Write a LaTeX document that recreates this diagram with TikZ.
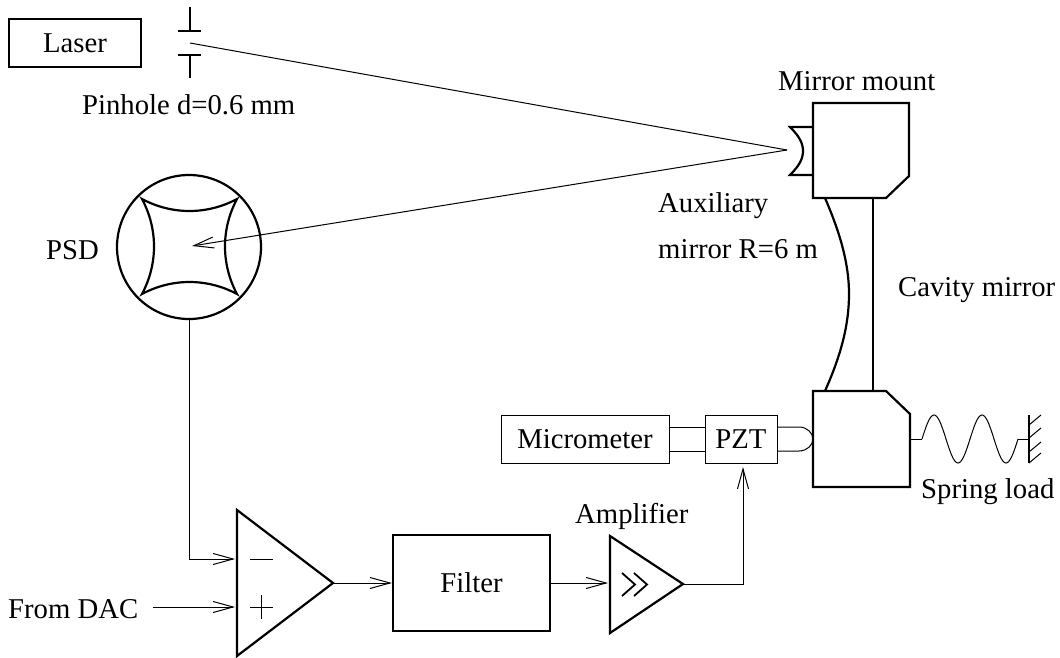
\documentclass[tikz,border=0pt]{standalone}
\usepackage{fontspec}
\setmainfont{Liberation Serif}
\usetikzlibrary{positioning,arrows.meta}

\begin{document}
\begin{tikzpicture}[
				x=1pt, y=-1pt,
				every node/.style={font=\fontsize{28.7}{32}\selectfont},
				thickbox/.style={rectangle, draw=black, line width=2.2pt, inner sep=0pt},
				thinbox/.style={rectangle, draw=black, line width=1pt, inner sep=0pt},
				label/.style={anchor=base west, inner sep=0pt},
				part/.style={line width=2.2pt, line join=miter},
				beam/.style={line width=1pt},
				signal/.style={line width=1pt, -{Straight Barb[length=20pt,width=11pt,line width=1pt]}},
				]
				\useasboundingbox (0,0) rectangle (1060,658);
				%Nodes
				\node[thickbox, minimum width=132pt, minimum height=48pt](laser) at (75,43){Laser};
				\node[label](pinhole) at (82,115){Pinhole d=0.6 mm};
				\node[label](mount) at (778,91){Mirror mount};
				\node[label](aux) at (658,212){Auxiliary};
				\node[label](auxr) at (658,258){mirror R=6 m};
				\node[label](psdlabel) at (46,259){PSD};
				\node[label](cavity) at (898,296){Cavity mirror};
				\node[label](spring) at (921,498){Spring load};
				\node[label](amplabel) at (575,523){Amplifier};
				\node[label](dac) at (8,618){From DAC};
				\node[circle, draw=black, line width=2.2pt, minimum size=144pt, inner sep=0pt](psd) at (189,247){};
				\node[thinbox, minimum width=168pt, minimum height=48pt](micro) at (585,439){Micrometer};
				\node[thinbox, minimum width=72pt, minimum height=48pt](pzt) at (741,439){PZT};
				\node[thickbox, minimum width=157pt, minimum height=96pt](filter) at (471.5,583){Filter};
				
				%Points
				\coordinate (pin) at (190,43);
				\coordinate (hit) at (787,150);
				\coordinate (spot) at (192,246);
				\coordinate (minus) at (235,559);
				\coordinate (plus) at (235,607);
				\coordinate (bend) at (189,559);
				\coordinate (dacend) at (153,607);
				\coordinate (opout) at (333,583);
				\coordinate (ampin) at (608,583);
				\coordinate (ampout) at (683,584);
				\coordinate (ampbend) at (743,584);
				\coordinate (pztin) at (743,467);
				\coordinate (springa) at (910,439);
				\coordinate (springb) at (922,439);
				\coordinate (springc) at (1018,439);
				\coordinate (wall) at (1029,439);
				
				%Pinhole
				\draw[part] (190,7) -- (190,31) (178,31) -- (201,31);
				\draw[part] (178,55) -- (201,55) (190,55) -- (190,78);
				
				%Mirror mounts
				\draw[part] (813,103) -- (909,103) -- (909,176) -- (886,198) -- (813,198) -- cycle;
				\draw[part] (813,391) -- (886,391) -- (910,414) -- (910,487) -- (813,487) -- cycle;
				
				%Auxiliary mirror
				\draw[part] (813,127) -- (790,127) .. controls (799,136) and (803,143) .. (803,151) .. controls (803,159) and (799,166) .. (790,175) -- (813,175);
				
				%Cavity mirror
				\draw[part] (873,198) -- (873,391);
				\draw[part] (825,198) .. controls (841,235) and (849,265) .. (849,294) .. controls (849,325) and (841,355) .. (825,391);
				
				%PSD
				\draw[part] (142,199) .. controls (172,215) and (207,215) .. (237,199) .. controls (221,229) and (221,264) .. (237,294) .. controls (207,278) and (172,278) .. (142,294) .. controls (158,264) and (158,229) .. (142,199) -- cycle;
				
				%Amplifiers
				\draw[part] (237,510) -- (333,583) -- (237,656) -- cycle;
				\draw[beam] (250,559) -- (273,559);
				\draw[beam] (250,607) -- (273,607) (261,595) -- (261,619);
				\draw[part] (610,536) -- (683,584) -- (610,633) -- cycle;
				\draw[line width=1.8pt] (622,573) -- (635,584.5) -- (622,596) (634,573) -- (647,584.5) -- (634,596);
				
				%Lines
				\draw[beam] (pin) -- (hit);
				\draw[signal] (hit) -- (spot);
				\draw[signal] (psd.south) -- (bend) -- (minus);
				\draw[signal] (dacend) -- (plus);
				\draw[signal] (opout) -- (filter.west);
				\draw[signal] (filter.east) -- (ampin);
				\draw[signal] (ampout) -- (ampbend) -- (pztin);
				\draw[beam] (micro.east |- 0,427) -- (pzt.west |- 0,427);
				\draw[beam] (micro.east |- 0,451) -- (pzt.west |- 0,451);
				\draw[beam] (pzt.east |- 0,427) -- (799,427) .. controls (807,427) and (813,433) .. (813,439) .. controls (813,445) and (807,451) .. (799,451) -- (pzt.east |- 0,451);
				
				%Spring
				\draw[beam] (springa) -- (springb);
				\draw[beam, smooth] plot[domain=0:96, samples=73] ({922+\x},{439-24*sin(7.5*\x)});
				\draw[beam] (springc) -- (wall);
				\draw[part] (1029,415) -- (1029,463);
				\foreach \ypos in {425,438,452,463}
					\draw[beam] (1029,\ypos) -- (1041,\ypos-10);
				
			\end{tikzpicture}
\end{document}
